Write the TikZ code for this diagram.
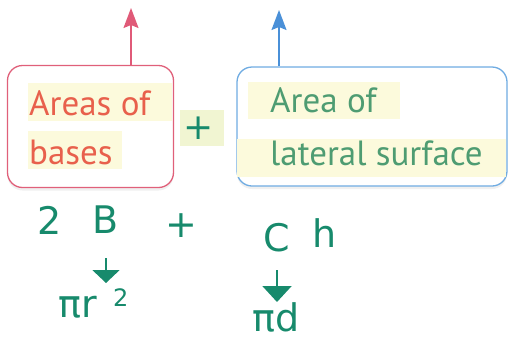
\documentclass[tikz,border=0pt]{standalone}
\usepackage{fontspec}
\setmainfont{PT Sans}
\newfontfamily\hand{DejaVu Sans}
\usetikzlibrary{arrows.meta,shadows}
\definecolor{redtxt}{HTML}{E8604C}
\definecolor{pinkline}{HTML}{E0607A}
\definecolor{redarr}{HTML}{E05A78}
\definecolor{blueline}{HTML}{70ACE2}
\definecolor{bluearr}{HTML}{4A90D8}
\definecolor{greentxt}{HTML}{4E9C72}
\definecolor{teal}{HTML}{178A6C}
\definecolor{hl}{HTML}{FCFADC}
\definecolor{hlg}{HTML}{F1F5D2}
\tikzset{
  boxst/.style={draw, line width=1.3pt, rounded corners=15pt, fill=white,
    drop shadow={opacity=0.12, shadow xshift=0pt, shadow yshift=-3pt}},
  lbl/.style={anchor=base west, inner sep=0pt, font=\fontsize{35}{40}\selectfont},
  upar/.style={line width=1.6pt, -{Stealth[width=15pt,length=20pt,inset=3pt]}},
  hw/.style={text=teal, inner sep=0pt, font=\hand\fontsize{38}{40}\selectfont},
  hwar/.style={draw=teal, line width=2pt, -{Triangle[width=27pt,length=13pt]}}
}
\begin{document}
\begin{tikzpicture}[x=1pt,y=-1pt]
\useasboundingbox (0,0) rectangle (508,341);
% boxes
\node[boxst, draw=pinkline, minimum width=166pt, minimum height=122pt] (lbox) at (90.5,126.5) {};
\node[boxst, draw=blueline, minimum width=270pt, minimum height=119pt] (rbox) at (372,126.5) {};
% highlights
\fill[hl] (28,83) rectangle (172,121);
\fill[hl] (28,131) rectangle (122,169);
\fill[hl] (248,82) rectangle (400,119);
\fill[hl] (237,139) rectangle (506,177);
\fill[hlg] (180,110) rectangle (224,146);
% labels
\node[lbl, text=redtxt] (a1) at (29,115) {Areas of};
\node[lbl, text=redtxt] (a2) at (29,164) {bases};
\node[lbl, text=greentxt] (b1) at (270,112) {Area of};
\node[lbl, text=greentxt] (b2) at (270,165) {lateral surface};
% up arrows
\coordinate (ltip) at (131,8);
\coordinate (rtip) at (279,10);
\draw[upar, draw=redarr, fill=redarr] (lbox.north -| ltip) -- (ltip);
\draw[upar, draw=bluearr, fill=bluearr] (rbox.north -| rtip) -- (rtip);
% green plus between boxes
\node[inner sep=0pt, text=teal, font=\hand\fontsize{36}{36}\selectfont] (p0) at (199,128) {+};
% handwritten formula
\node[hw] (two) at (50,220) {2};
\node[hw] (bb) at (106,220) {B};
\node[hw] (plus) at (181,226) {+};
\node[hw] (cc) at (277,238) {C};
\node[hw] (hh) at (325,233) {h};
\node[hw, anchor=base west] (pr) at (58,317) {πr};
\node[hw, anchor=base west, font=\hand\fontsize{24}{24}\selectfont] (sq) at (113,306) {2};
\node[hw, anchor=base west] (pd) at (252,331) {πd};
\coordinate (ar1) at (106,258);
\coordinate (ar2) at (277,270);
\draw[hwar, fill=teal] (ar1) -- (ar1 |- 0,283);
\draw[hwar, fill=teal, -{Triangle[width=29pt,length=16pt]}] (ar2) -- (ar2 |- 0,302);
\end{tikzpicture}
\end{document}
